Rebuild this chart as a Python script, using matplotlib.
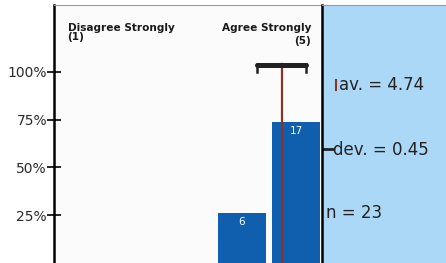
import matplotlib.pyplot as plt

plt.rcParams['font.family'] = ['DejaVu Sans']

categories = [1, 2, 3, 4, 5]
counts = [0, 0, 0, 6, 17]
n = 23
mean = 4.74
dev = 0.45
ytick_labels = ['25%', '50%', '75%', '100%']
yticks = [0.25, 0.5, 0.75, 1.0]

shares = [c / n for c in counts]

fig = plt.figure(figsize=(4.46, 2.63), dpi=100)
ax = fig.add_axes([54 / 446, 0, 268 / 446, 258 / 263])
side = fig.add_axes([322 / 446, 0, 124 / 446, 258 / 263])

bar_color = '#0f5fae'
bars = ax.bar(categories, shares, width=0.89, color=bar_color)
for b, c in zip(bars, counts):
    if c > 0:
        ax.text(b.get_x() + b.get_width() / 2, b.get_height() - 0.02, str(c),
                ha='center', va='top', color='white', fontsize=7.5)

# mean line and deviation bar
ax.plot([mean, mean], [0, 1.04], color='#8b3328', lw=1.6, zorder=3)
ax.plot([mean - dev, mean + dev], [1.035, 1.035], color='#222222', lw=3.6,
        solid_capstyle='round', zorder=4)
for x in (mean - dev, mean + dev):
    ax.plot([x, x], [1.0, 1.04], color='#222222', lw=1.8, zorder=4)

ax.text(0.79, 1.255, 'Disagree Strongly\n(1)', fontsize=7.6, va='top', ha='left',
        linespacing=0.8, fontweight='bold', color='#1a1a1a')
ax.text(5.28, 1.255, 'Agree Strongly', fontsize=7.6, va='top', ha='right',
        fontweight='bold', color='#1a1a1a')
ax.text(5.28, 1.19, '(5)', fontsize=7.6, va='top', ha='right',
        fontweight='bold', color='#1a1a1a')

ax.set_xlim(0.54, 5.48)
ax.set_ylim(0, 1.35)
ax.set_yticks(yticks)
ax.set_yticklabels(ytick_labels, fontsize=10, color='#2a2a2a')
ax.set_xticks([])
ax.tick_params(axis='y', direction='inout', length=10, width=1.2, pad=0)
ax.set_facecolor('#fbfbfb')
for s in ('right', 'bottom'):
    ax.spines[s].set_visible(False)
ax.spines['left'].set_linewidth(1.8)
ax.spines['top'].set_color('#999999')

side.set_facecolor('#abd8f7')
side.set_xticks([])
side.set_yticks([])
for s in ('right', 'bottom'):
    side.spines[s].set_visible(False)
side.spines['top'].set_color('#999999')
side.spines['left'].set_linewidth(1.8)
side.set_xlim(0, 1)
side.set_ylim(0, 1)
side.text(0.14, 0.69, 'av. = ' + f'{mean:.2f}', fontsize=12, va='center', color='#222222')
side.plot([0.113, 0.113], [0.67, 0.71], color='#8b3328', lw=1.5)
side.text(0.09, 0.438, 'dev. = ' + f'{dev:.2f}', fontsize=12, va='center', color='#222222')
side.plot([0.01, 0.085], [0.44, 0.44], color='#222222', lw=2)
side.text(0.03, 0.194, 'n = ' + str(n), fontsize=12, va='center', color='#222222')

fig.savefig('out.png', dpi=100)
